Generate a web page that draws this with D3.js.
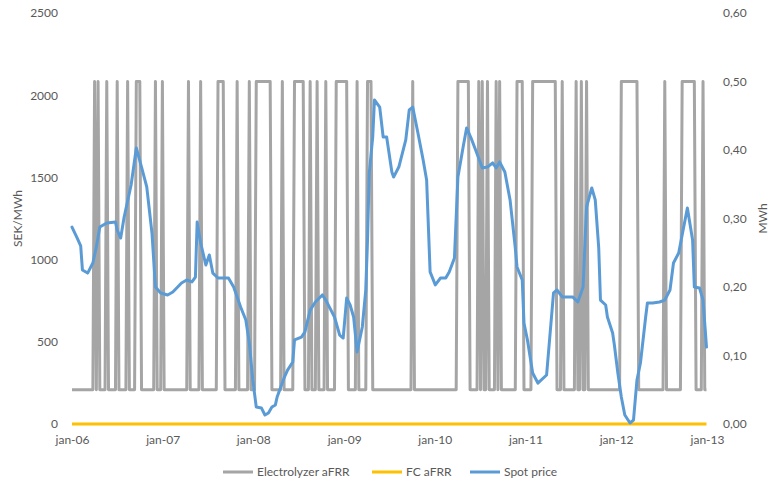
<!DOCTYPE html>
<html>
<head>
<meta charset="utf-8">
<script src="https://cdn.jsdelivr.net/npm/d3@7"></script>
<style>
  html, body { margin: 0; padding: 0; background: #fff; }
  svg { display: block; font-family: Lato, "Open Sans", sans-serif; }
  .tick text { fill: #595959; font-size: 12px; }
  .title, .legend text { fill: #595959; font-size: 12px; }
</style>
</head>
<body>
<svg id="chart" width="770" height="486"></svg>
<script>
// Weekly series, first week starting 2006-01-01
const seriesNames = ["Electrolyzer aFRR", "FC aFRR", "Spot price"];

// Electrolyzer aFRR bid per week (MWh)
const electrolyzer = [
  0.05,0.05,0.05,0.05,0.05,0.05,0.05,0.05,0.05,0.05,
  0.05,0.05,0.05,0.5,0.05,0.5,0.05,0.05,0.05,0.05,
  0.5,0.05,0.05,0.05,0.05,0.05,0.5,0.05,0.05,0.05,
  0.05,0.05,0.5,0.05,0.05,0.05,0.05,0.5,0.5,0.5,
  0.05,0.05,0.05,0.05,0.05,0.05,0.05,0.05,0.5,0.05,
  0.05,0.05,0.5,0.05,0.05,0.05,0.05,0.05,0.05,0.05,
  0.05,0.05,0.05,0.05,0.05,0.05,0.05,0.5,0.05,0.05,
  0.05,0.05,0.05,0.05,0.5,0.05,0.05,0.05,0.05,0.05,
  0.05,0.05,0.05,0.05,0.5,0.5,0.5,0.5,0.05,0.05,
  0.05,0.05,0.05,0.05,0.05,0.5,0.05,0.05,0.05,0.05,
  0.05,0.05,0.5,0.05,0.05,0.05,0.5,0.5,0.5,0.5,
  0.5,0.5,0.5,0.5,0.5,0.05,0.05,0.05,0.05,0.05,
  0.05,0.5,0.05,0.05,0.05,0.05,0.05,0.05,0.5,0.5,
  0.5,0.5,0.5,0.5,0.05,0.05,0.05,0.5,0.05,0.05,
  0.05,0.5,0.05,0.05,0.05,0.05,0.5,0.05,0.05,0.05,
  0.05,0.05,0.5,0.5,0.5,0.5,0.5,0.5,0.5,0.05,
  0.05,0.05,0.05,0.05,0.5,0.05,0.05,0.05,0.05,0.05,
  0.5,0.5,0.5,0.05,0.05,0.05,0.05,0.05,0.05,0.05,
  0.05,0.05,0.05,0.05,0.05,0.05,0.05,0.05,0.05,0.05,
  0.05,0.05,0.05,0.05,0.05,0.05,0.5,0.05,0.05,0.05,
  0.05,0.05,0.05,0.05,0.05,0.05,0.05,0.05,0.05,0.05,
  0.05,0.05,0.05,0.05,0.05,0.05,0.05,0.05,0.05,0.05,
  0.05,0.05,0.5,0.5,0.5,0.5,0.5,0.5,0.5,0.05,
  0.05,0.05,0.05,0.05,0.5,0.05,0.5,0.05,0.05,0.5,
  0.05,0.05,0.05,0.05,0.5,0.05,0.5,0.05,0.05,0.05,
  0.05,0.05,0.05,0.05,0.05,0.05,0.5,0.5,0.5,0.5,
  0.05,0.05,0.05,0.05,0.05,0.5,0.5,0.5,0.5,0.5,
  0.5,0.5,0.5,0.5,0.5,0.5,0.5,0.5,0.5,0.05,
  0.05,0.05,0.5,0.05,0.05,0.05,0.05,0.05,0.05,0.05,
  0.5,0.05,0.05,0.5,0.05,0.05,0.5,0.05,0.05,0.05,
  0.05,0.05,0.05,0.05,0.05,0.05,0.05,0.05,0.05,0.05,
  0.05,0.05,0.05,0.05,0.05,0.05,0.5,0.5,0.5,0.5,
  0.5,0.5,0.5,0.5,0.5,0.5,0.05,0.05,0.05,0.05,
  0.05,0.05,0.05,0.05,0.05,0.05,0.05,0.05,0.05,0.05,
  0.05,0.5,0.05,0.05,0.05,0.05,0.05,0.05,0.05,0.05,
  0.05,0.5,0.5,0.5,0.5,0.5,0.5,0.5,0.5,0.05,
  0.05,0.05,0.05,0.5,0.05,0.05
];

// FC aFRR bid (MWh), flat over the whole period
const fcWeeks = [0, 365];
const fcValues = [0, 0];

// Spot price (SEK/MWh) at selected weeks
const spotWeeks = [
  0,3,5,6,9,12,14,16,20,25,26,28,30,34,37,40,43,46,48,51,
  55,58,63,66,69,71,72,74,77,79,81,84,90,93,97,100,102,104,106,109,
  111,113,115,117,118,122,124,127,128,132,134,137,140,144,146,148,151,154,156,158,
  160,162,164,167,169,170,171,173,174,177,179,181,184,185,188,192,194,196,199,202,
  204,206,209,212,215,217,220,222,225,227,230,235,236,239,242,244,246,249,252,255,
  256,259,260,262,265,268,273,277,279,282,288,291,294,296,299,301,303,304,307,308,
  311,312,314,316,318,321,323,325,327,330,331,334,338,341,344,346,349,354,357,358,
  361,363,365
];
const spotPrices = [
  1198,1131,1083,937,918,979,1077,1198,1223,1229,1180,1131,1259,1454,1679,1563,1442,1162,833,797,
  785,803,858,876,864,894,1229,1101,967,1028,918,888,888,833,712,633,493,268,103,97,
  55,67,103,116,164,280,328,377,511,529,560,693,742,785,754,712,651,541,523,766,
  724,651,438,590,815,1119,1527,1746,1971,1928,1746,1746,1533,1502,1563,1728,1910,1928,1770,1606,
  1484,925,846,888,888,925,1010,1502,1685,1801,1728,1588,1557,1563,1588,1557,1594,1533,1363,1071,
  955,876,614,511,310,249,298,797,815,773,773,742,833,1320,1436,1363,1071,754,724,651,
  554,481,310,164,55,6,24,268,371,651,736,736,742,754,815,979,1040,1314,1119,833,
  827,754,468
];

// Axis ticks
const yearTicks = ["2006-01-01","2007-01-01","2008-01-01","2009-01-01","2010-01-01","2011-01-01","2012-01-01","2013-01-01"];
const xTickLabels = ["jan-06","jan-07","jan-08","jan-09","jan-10","jan-11","jan-12","jan-13"];
const priceTicks = [0, 500, 1000, 1500, 2000, 2500];
const mwhTicks = [0, 0.1, 0.2, 0.3, 0.4, 0.5, 0.6];

const colors = { elec: "#A5A5A5", fc: "#FFC000", spot: "#5B9BD5" };

(function draw() {
  const svg = d3.select("#chart");
  const plotLeft = 72, plotRight = 707, plotTop = 13, plotBottom = 424;

  const parse = d3.timeParse("%Y-%m-%d");
  const start = parse("2006-01-01");
  const weekDate = i => d3.timeDay.offset(start, 7 * i);

  const x = d3.scaleTime().domain([parse("2006-01-01"), parse("2013-01-01")]).range([plotLeft, plotRight]);
  const yPrice = d3.scaleLinear().domain([0, 2500]).range([plotBottom, plotTop]);
  const yMwh = d3.scaleLinear().domain([0, 0.6]).range([plotBottom, plotTop]);

  const sv = d3.formatLocale({ decimal: ",", thousands: " ", grouping: [3], currency: ["", " kr"] });

  // Axes (labels only)
  const xAxis = d3.axisBottom(x)
    .tickValues(yearTicks.map(parse))
    .tickFormat((d, i) => xTickLabels[i])
    .tickSize(0).tickPadding(11.5);
  svg.append("g").attr("transform", `translate(0,${plotBottom})`).call(xAxis)
    .call(g => g.select(".domain").remove());

  const yAxisL = d3.axisLeft(yPrice).tickValues(priceTicks).tickFormat(d3.format("d"))
    .tickSize(0).tickPadding(14);
  svg.append("g").attr("transform", `translate(${plotLeft},0)`).call(yAxisL)
    .call(g => g.select(".domain").remove());

  const yAxisR = d3.axisRight(yMwh).tickValues(mwhTicks).tickFormat(sv.format(".2f"))
    .tickSize(0).tickPadding(16);
  svg.append("g").attr("transform", `translate(${plotRight},0)`).call(yAxisR)
    .call(g => g.select(".domain").remove());

  svg.selectAll("g").attr("font-family", null).attr("font-size", null);

  // Axis titles
  svg.append("text").attr("class", "title")
    .attr("transform", `translate(22,${(plotTop + plotBottom) / 2}) rotate(-90)`)
    .attr("text-anchor", "middle").text("SEK/MWh");
  svg.append("text").attr("class", "title")
    .attr("transform", `translate(767,${(plotTop + plotBottom) / 2}) rotate(-90)`)
    .attr("text-anchor", "middle").text("MWh");

  // Series lines
  const elecLine = d3.line().x((d, i) => x(weekDate(i))).y(d => yMwh(d));
  svg.append("path").datum(electrolyzer)
    .attr("d", elecLine).attr("fill", "none")
    .attr("stroke", colors.elec).attr("stroke-width", 3).attr("stroke-linejoin", "round");

  const fcLine = d3.line().x((d, i) => x(weekDate(fcWeeks[i]))).y(d => yMwh(d));
  svg.append("path").datum(fcValues)
    .attr("d", fcLine).attr("fill", "none")
    .attr("stroke", colors.fc).attr("stroke-width", 3);

  const spotLine = d3.line().x((d, i) => x(weekDate(spotWeeks[i]))).y(d => yPrice(d));
  svg.append("path").datum(spotPrices)
    .attr("d", spotLine).attr("fill", "none")
    .attr("stroke", colors.spot).attr("stroke-width", 3)
    .attr("stroke-linejoin", "round").attr("stroke-linecap", "round");

  // Legend
  const legendItems = [
    { name: seriesNames[0], color: colors.elec, x: 223 },
    { name: seriesNames[1], color: colors.fc, x: 372 },
    { name: seriesNames[2], color: colors.spot, x: 470 }
  ];
  const lg = svg.append("g").attr("class", "legend");
  legendItems.forEach(it => {
    lg.append("line").attr("x1", it.x).attr("x2", it.x + 30)
      .attr("y1", 472).attr("y2", 472)
      .attr("stroke", it.color).attr("stroke-width", 3);
    lg.append("text").attr("x", it.x + 34).attr("y", 472).attr("dy", "0.35em").text(it.name);
  });
})();
</script>
</body>
</html>
